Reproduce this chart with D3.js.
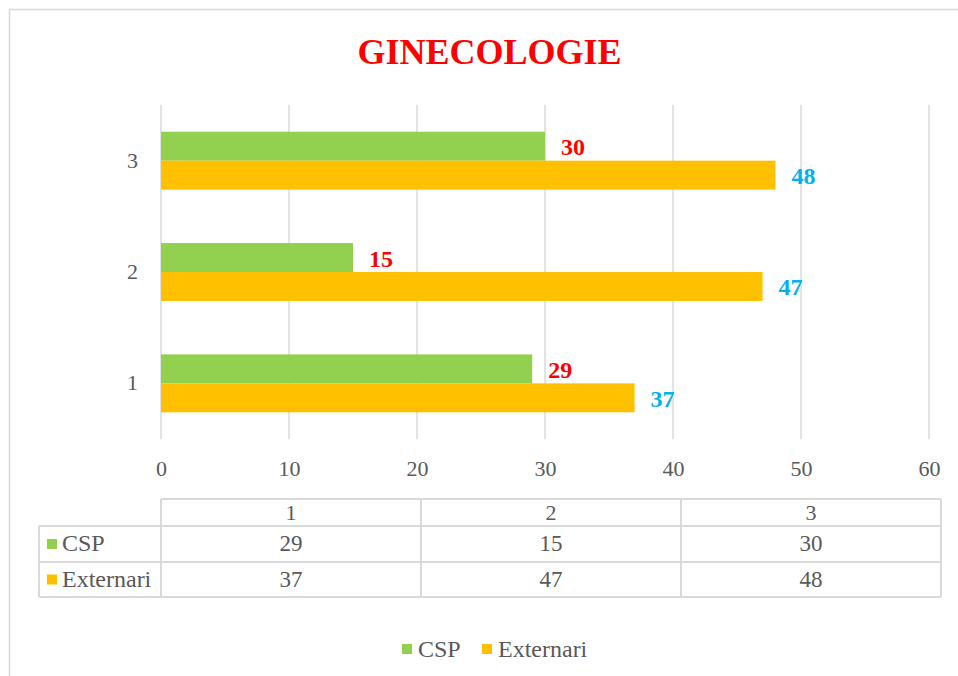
<!DOCTYPE html>
<html>
<head>
<meta charset="utf-8">
<script src="https://cdn.jsdelivr.net/npm/d3@7"></script>
<style>
  body { margin: 0; background: #fff; }
</style>
</head>
<body>
<div id="chart"></div>
<script>
var categories = ["1", "2", "3"];
var seriesNames = ["CSP", "Externari"];
var cspValues = [29, 15, 30];
var externariValues = [37, 47, 48];
var xTicks = [0, 10, 20, 30, 40, 50, 60];
var titleText = "GINECOLOGIE";

var colors = { CSP: "#92D050", Externari: "#FFC000" };
var labelColors = { CSP: "#FF0000", Externari: "#00B0F0" };
var gridColor = "#d9d9d9";
var textColor = "#595959";
var serif = "'Liberation Serif', 'Times New Roman', serif";

var width = 958, height = 676;

var svg = d3.select("#chart")
	.append("svg")
		.attr("width", width)
		.attr("height", height)
		.style("font-family", serif);

svg.append("rect")
	.attr("width", width).attr("height", height)
	.attr("fill", "#fff");

// outer chart border (runs off right/bottom)
svg.append("rect")
	.attr("x", 9.5).attr("y", 9.5)
	.attr("width", 980).attr("height", 700)
	.attr("fill", "none")
	.attr("stroke", gridColor)
	.attr("stroke-width", 1.5);

svg.append("text")
	.attr("x", 489.5).attr("y", 64)
	.attr("text-anchor", "middle")
	.style("font-family", serif)
	.attr("font-size", 36)
	.attr("font-weight", "bold")
	.attr("fill", "#FF0000")
	.text(titleText);

var plot = { left: 161, right: 929, top: 105, bottom: 439 };

var x = d3.scaleLinear().domain([0, 60]).range([plot.left, plot.right]);
var y = d3.scaleBand()
	.domain(categories.slice().reverse())
	.range([plot.top, plot.bottom])
	.paddingInner(0.48)
	.paddingOuter(0.24);
var ySub = d3.scaleBand().domain(seriesNames).range([0, y.bandwidth()]);

// grid
svg.append("g").selectAll("line")
	.data(xTicks)
	.enter()
	.append("line")
		.attr("x1", function(d) { return x(d); })
		.attr("x2", function(d) { return x(d); })
		.attr("y1", plot.top)
		.attr("y2", plot.bottom)
		.attr("stroke", gridColor)
		.attr("stroke-width", 1.5);

// x axis labels
var xAxis = d3.axisBottom(x).tickValues(xTicks).tickSize(0).tickPadding(0);
var gx = svg.append("g")
	.attr("transform", "translate(0," + (plot.bottom + 21) + ")")
	.call(xAxis);
gx.select(".domain").remove();
gx.selectAll("text")
	.style("font-family", serif)
	.attr("font-size", 22)
	.attr("fill", textColor)
	.attr("dy", "0.71em");

// y axis labels
var yAxis = d3.axisLeft(y).tickSize(0).tickPadding(0);
var gy = svg.append("g")
	.attr("transform", "translate(" + (plot.left - 23) + ",0)")
	.call(yAxis);
gy.select(".domain").remove();
gy.selectAll("text")
	.style("font-family", serif)
	.attr("font-size", 22)
	.attr("fill", textColor);

var barData = [];
categories.forEach(function(c, i) {
	barData.push({ cat: c, series: "CSP", value: cspValues[i] });
	barData.push({ cat: c, series: "Externari", value: externariValues[i] });
});

svg.append("g").selectAll("rect")
	.data(barData)
	.enter()
	.append("rect")
		.attr("x", x(0))
		.attr("y", function(d) { return y(d.cat) + ySub(d.series); })
		.attr("width", function(d) { return x(d.value) - x(0); })
		.attr("height", ySub.bandwidth())
		.attr("fill", function(d) { return colors[d.series]; });

svg.append("g").selectAll("text")
	.data(barData)
	.enter()
	.append("text")
		.attr("x", function(d) { return x(d.value) + 16; })
		.attr("y", function(d) { return y(d.cat) + ySub(d.series) + ySub.bandwidth() / 2 + 9; })
		.style("font-family", serif)
		.attr("font-size", 24)
		.attr("font-weight", "bold")
		.attr("fill", function(d) { return labelColors[d.series]; })
		.text(function(d) { return d.value; });

// data table
var tbl = { labelLeft: 39, left: 161, right: 941, rows: [499, 526, 562, 597] };
var col = d3.scaleBand().domain(categories).range([tbl.left, tbl.right]);
var tg = svg.append("g")
	.attr("stroke", gridColor)
	.attr("stroke-width", 2);

tg.append("line")
	.attr("x1", tbl.left).attr("x2", tbl.right)
	.attr("y1", tbl.rows[0]).attr("y2", tbl.rows[0]);
tbl.rows.slice(1).forEach(function(r) {
	tg.append("line")
		.attr("x1", tbl.labelLeft).attr("x2", tbl.right)
		.attr("y1", r).attr("y2", r);
});
tg.append("line")
	.attr("x1", tbl.labelLeft).attr("x2", tbl.labelLeft)
	.attr("y1", tbl.rows[1]).attr("y2", tbl.rows[3]);
categories.forEach(function(c) {
	tg.append("line")
		.attr("x1", col(c)).attr("x2", col(c))
		.attr("y1", tbl.rows[0]).attr("y2", tbl.rows[3]);
});
tg.append("line")
	.attr("x1", tbl.right).attr("x2", tbl.right)
	.attr("y1", tbl.rows[0]).attr("y2", tbl.rows[3]);

function cellText(xp, yTop, yBot, txt, anchor, size) {
	svg.append("text")
		.attr("x", xp)
		.attr("y", (yTop + yBot) / 2 + 7)
		.attr("text-anchor", anchor || "middle")
		.style("font-family", serif)
		.attr("font-size", size || 22)
		.attr("fill", textColor)
		.text(txt);
}

categories.forEach(function(c) {
	cellText(col(c) + col.bandwidth() / 2, tbl.rows[0], tbl.rows[1], c);
});
var tableRows = [
	{ name: "CSP", values: cspValues },
	{ name: "Externari", values: externariValues }
];
tableRows.forEach(function(row, ri) {
	var yt = tbl.rows[ri + 1], yb = tbl.rows[ri + 2];
	svg.append("rect")
		.attr("x", 47).attr("y", (yt + yb) / 2 - 5)
		.attr("width", 10).attr("height", 10)
		.attr("fill", colors[row.name]);
	cellText(62, yt, yb, row.name, "start", 24);
	row.values.forEach(function(v, i) {
		cellText(col(categories[i]) + col.bandwidth() / 2, yt, yb, v, "middle", 23);
	});
});

// legend
var legendY = 649;
var legendItems = [
	{ name: "CSP", x: 402 },
	{ name: "Externari", x: 482 }
];
var lg = svg.append("g");
legendItems.forEach(function(it) {
	lg.append("rect")
		.attr("x", it.x).attr("y", legendY - 5)
		.attr("width", 10).attr("height", 10)
		.attr("fill", colors[it.name]);
	lg.append("text")
		.attr("x", it.x + 16).attr("y", legendY + 8)
		.style("font-family", serif)
		.attr("font-size", 24)
		.attr("fill", textColor)
		.text(it.name);
});
</script>
</body>
</html>
